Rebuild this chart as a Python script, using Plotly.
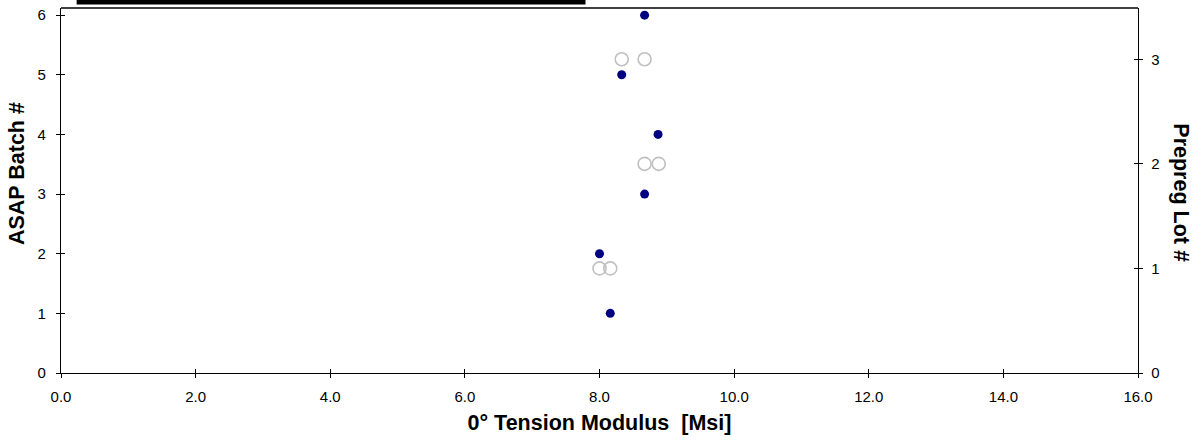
import plotly.graph_objects as go

# ASAP batch data (left axis)
batch_modulus = [8.16, 8.00, 8.67, 8.87, 8.33, 8.67]
batch_number = [1, 2, 3, 4, 5, 6]

# Prepreg lot data (right axis)
lot_modulus = [8.00, 8.16, 8.67, 8.88, 8.33, 8.67]
lot_number = [1, 1, 2, 2, 3, 3]

x_ticks = [0, 2, 4, 6, 8, 10, 12, 14, 16]
y_ticks = [0, 1, 2, 3, 4, 5, 6]
y2_ticks = [0, 1, 2, 3]

FONT = "Liberation Sans, Arial, sans-serif"
XR = [0, 16]
YR = [0, 6.12]
Y2R = [0, 3.49]

fig = go.Figure()
fig.add_trace(go.Scatter(
    x=batch_modulus, y=batch_number, mode="markers",
    marker=dict(color="#000080", size=9, line=dict(width=0)),
    xaxis="x", yaxis="y", showlegend=False, cliponaxis=False))
fig.add_trace(go.Scatter(
    x=lot_modulus, y=lot_number, mode="markers",
    marker=dict(color="#c0c0c0", size=13, symbol="circle-open",
                line=dict(color="#c0c0c0", width=1.6)),
    xaxis="x", yaxis="y2", showlegend=False, cliponaxis=False))

tickfont = dict(family=FONT, size=15, color="black")
titlefont = dict(family=FONT, size=21.5, color="black")
common = dict(showgrid=False, zeroline=False, tickcolor="black", ticklen=4, tickwidth=1)

fig.update_layout(
    width=1203, height=446,
    margin=dict(l=61, r=65.3, t=6, b=73),
    paper_bgcolor="white", plot_bgcolor="white",
    font=dict(family=FONT, color="black"),
    xaxis=dict(range=XR, tickvals=x_ticks, tickformat=".1f", ticks="outside",
               showline=True, linecolor="black", linewidth=1.3,
               tickfont=tickfont, anchor="y", ticklabelstandoff=6,
               title=dict(text="<b>0° Tension Modulus \u00a0[Msi]</b>",
                          font=titlefont, standoff=10),
               **common),
    xaxis2=dict(range=XR, tickvals=x_ticks, ticks="inside", overlaying="x",
                anchor="y", showticklabels=False, showline=False, **common),
    yaxis=dict(range=YR, tickvals=y_ticks, ticks="outside",
               showline=True, linecolor="black", linewidth=1.3,
               tickfont=tickfont, ticklabelstandoff=7,
               **common),
    yaxis3=dict(range=YR, tickvals=y_ticks, ticks="inside", overlaying="y",
                side="left", showticklabels=False, showline=False, **common),
    yaxis2=dict(range=Y2R, tickvals=y2_ticks, ticks="outside", overlaying="y",
                side="right", showline=True, linecolor="black", linewidth=1.3,
                tickfont=tickfont, ticklabelstandoff=5, **common),
    yaxis4=dict(range=Y2R, tickvals=y2_ticks, ticks="inside", overlaying="y",
                side="right", showticklabels=False, showline=False, **common),
)

# overlay axes carry the inward half of the crossing tick marks
fig.add_trace(go.Scatter(x=[None], y=[None], xaxis="x2", yaxis="y3", showlegend=False, hoverinfo="skip"))
fig.add_trace(go.Scatter(x=[None], y=[None], xaxis="x2", yaxis="y4", showlegend=False, hoverinfo="skip"))

# left axis title (reads bottom to top)
fig.add_annotation(text="<b>ASAP Batch #</b>", textangle=-90, xref="paper", yref="paper",
                   x=0.0, xshift=-44, xanchor="center", y=0.545, yanchor="middle",
                   showarrow=False, font=titlefont)
# right axis title (reads top to bottom)
fig.add_annotation(text="<b>Prepreg Lot #</b>", textangle=90, xref="paper", yref="paper",
                   x=1.0, xshift=43, xanchor="center", y=0.495, yanchor="middle",
                   showarrow=False, font=titlefont)

# top border of plot area
fig.add_shape(type="line", xref="paper", yref="paper", x0=0, x1=1, y0=1, y1=1,
              line=dict(color="#404040", width=2))
# partially visible legend box at the top
fig.add_shape(type="rect", xref="paper", yref="paper", x0=0.0145, x1=0.4870,
              y0=1.0095, y1=1.06, fillcolor="black", line=dict(width=0), layer="above")

fig.write_html("out.html")
